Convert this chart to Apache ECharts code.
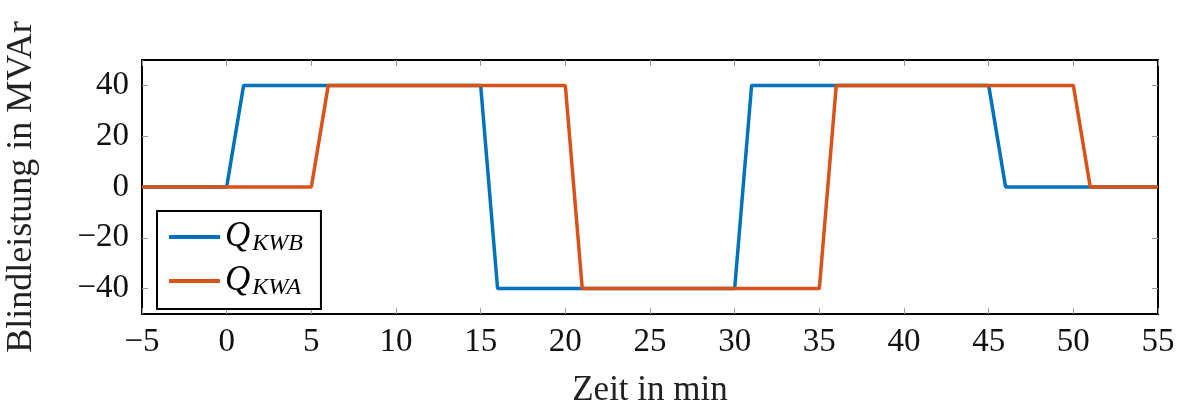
<!DOCTYPE html>
<html><head><meta charset="utf-8">
<script src="https://cdn.jsdelivr.net/npm/echarts@6/dist/echarts.min.js"></script>
<style>html,body{margin:0;padding:0;background:#fff}#c{width:1177px;height:406px}</style>
</head><body><div id="c"></div>
<script>
const timeKWB = [-5, 0, 1, 15, 16, 30, 31, 45, 46, 55];
const valKWB  = [0, 0, 40, 40, -40, -40, 40, 40, 0, 0];
const timeKWA = [-5, 5, 6, 20, 21, 35, 36, 50, 51, 55];
const valKWA  = [0, 0, 40, 40, -40, -40, 40, 40, 0, 0];
const xTicks = [-5, 0, 5, 10, 15, 20, 25, 30, 35, 40, 45, 50, 55];
const yTicks = [-40, -20, 0, 20, 40];
const seriesNames = ['Q_KWB', 'Q_KWA'];
const colors = ['#0072BD', '#D95319'];

const font = 'Liberation Serif';
const fmtNum = v => (v < 0 ? '\u2212' + Math.abs(v) : String(v));
const tickStyle = {show: true, inside: true, length: 6, lineStyle: {color: '#999', width: 1}};
const chart = echarts.init(document.getElementById('c'), null, {renderer: 'canvas'});
const legendRich = {
  q: {fontFamily: font, fontStyle: 'italic', fontSize: 35, color: '#000', lineHeight: 36},
  s: {fontFamily: font, fontStyle: 'italic', fontSize: 24, color: '#000', lineHeight: 36, padding: [14, 0, 0, 2], letterSpacing: 3}
};
const lineAxis = {show: true, onZero: false, lineStyle: {color: '#000', width: 2}};
chart.setOption({
  animation: false,
  grid: {left: 142, right: 19, top: 60, bottom: 92, containLabel: false, outerBoundsMode: 'none'},
  legend: {
    left: 157, top: 211, orient: 'vertical',
    data: seriesNames.map(n => ({name: n, icon: 'rect'})),
    itemWidth: 51, itemHeight: 4, itemGap: 6,
    padding: [7, 18, 9, 12],
    borderColor: '#000', borderWidth: 2, backgroundColor: '#fff',
    formatter: n => '{q|Q}{s|' + n.split('_')[1] + '}',
    textStyle: {rich: legendRich}
  },
  xAxis: [{
    type: 'value', min: -5, max: 55, interval: 5, position: 'bottom',
    name: 'Zeit in min', nameLocation: 'middle', nameGap: 59,
    nameTextStyle: {fontFamily: font, fontSize: 35, color: '#222'},
    axisLine: lineAxis,
    axisTick: Object.assign({customValues: xTicks}, tickStyle),
    axisLabel: {fontFamily: font, fontSize: 33, color: '#111', margin: 12,
      customValues: xTicks, formatter: v => fmtNum(v)},
    splitLine: {show: false}
  }, {
    type: 'value', min: -5, max: 55, interval: 5, position: 'top',
    axisLine: lineAxis,
    axisTick: Object.assign({customValues: xTicks}, tickStyle), axisLabel: {show: false}, splitLine: {show: false}
  }],
  yAxis: [{
    type: 'value', min: -50, max: 50, interval: 10, position: 'left',
    name: 'Blindleistung in MVAr', nameLocation: 'middle', nameGap: 102, nameRotate: 90,
    nameTextStyle: {fontFamily: font, fontSize: 36, color: '#222'},
    axisLine: lineAxis,
    axisTick: Object.assign({customValues: yTicks}, tickStyle),
    axisLabel: {fontFamily: font, fontSize: 33, color: '#111', margin: 13,
      customValues: yTicks, formatter: v => fmtNum(v)},
    splitLine: {show: false}
  }, {
    type: 'value', min: -50, max: 50, interval: 10, position: 'right',
    axisLine: lineAxis,
    axisTick: Object.assign({customValues: yTicks}, tickStyle), axisLabel: {show: false}, splitLine: {show: false}
  }],
  series: [
    {name: seriesNames[0], type: 'line', data: timeKWB.map((t, i) => [t, valKWB[i]]),
     symbol: 'none', lineStyle: {color: colors[0], width: 3.5}, itemStyle: {color: colors[0]}, z: 3},
    {name: seriesNames[1], type: 'line', data: timeKWA.map((t, i) => [t, valKWA[i]]),
     symbol: 'none', lineStyle: {color: colors[1], width: 3.5}, itemStyle: {color: colors[1]}, z: 4}
  ]
});
</script></body></html>
